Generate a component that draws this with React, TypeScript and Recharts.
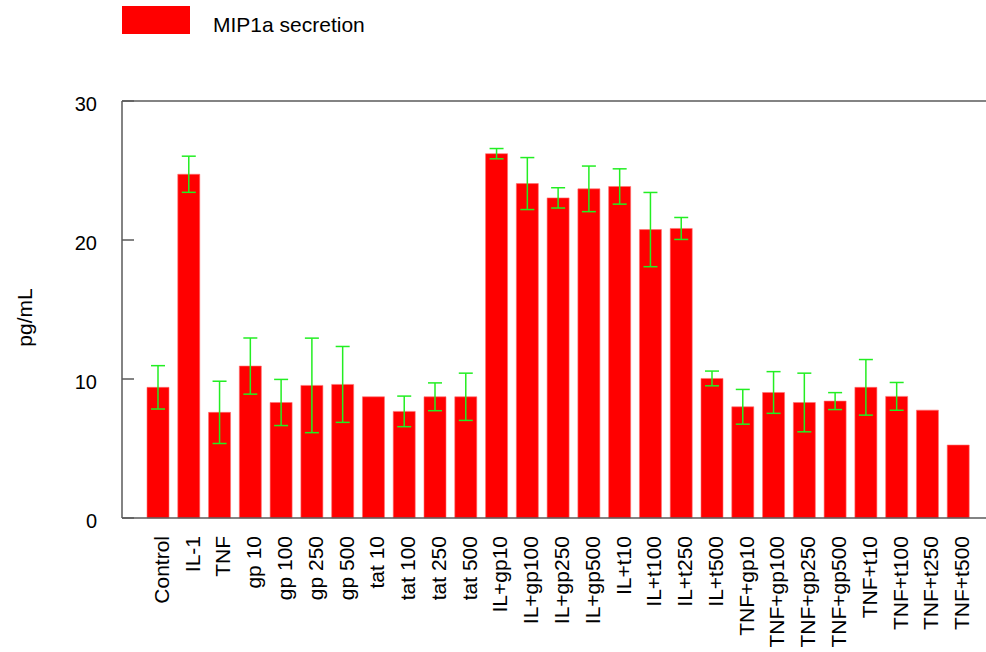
import React from 'react';
import { BarChart, Bar, XAxis, YAxis, ErrorBar, ReferenceLine } from 'recharts';

const categories = ['Control', 'IL-1', 'TNF', 'gp 10', 'gp 100', 'gp 250', 'gp 500', 'tat 10', 'tat 100', 'tat 250', 'tat 500', 'IL+gp10', 'IL+gp100', 'IL+gp250', 'IL+gp500', 'IL+t10', 'IL+t100', 'IL+t250', 'IL+t500', 'TNF+gp10', 'TNF+gp100', 'TNF+gp250', 'TNF+gp500', 'TNF+t10', 'TNF+t100', 'TNF+t250', 'TNF+t500'];
const secretion = [9.4, 24.73, 7.6, 10.93, 8.31, 9.54, 9.61, 8.72, 7.67, 8.72, 8.72, 26.21, 24.06, 23.03, 23.68, 23.85, 20.75, 20.83, 10.04, 8.0, 9.03, 8.31, 8.41, 9.4, 8.75, 7.76, 5.25];
const errors: (number | null)[] = [1.56, 1.3, 2.24, 2.02, 1.66, 3.4, 2.73, null, 1.1, 1.0, 1.7, 0.37, 1.87, 0.73, 1.64, 1.27, 2.67, 0.79, 0.53, 1.25, 1.5, 2.11, 0.61, 2.0, 1.0, null, null];
const yTicks = [0, 10, 20, 30];
const seriesName = 'MIP1a secretion';
const yLabel = 'pg/mL';

const data = categories.map((c, i) => ({ name: c, value: secretion[i], err: errors[i] }));

const FONT = '"Liberation Sans", Arial, Helvetica, sans-serif';
const AXIS = '#5a5a5a';

const XTick = (props: any) => {
  const { x, y, payload } = props;
  const tx = x + 3;
  const ty = y + 18;
  return (
    <text x={tx} y={ty} transform={`rotate(-90, ${tx}, ${ty})`} textAnchor="end" dominantBaseline="central" fontFamily={FONT} fontSize={21} fill="#000">
      {payload.value}
    </text>
  );
};

const YTick = (props: any) => {
  const { x, y, payload } = props;
  return (
    <g>
      <line x1={x} y1={y} x2={x + 12} y2={y} stroke={AXIS} strokeWidth={1.5} />
      <text x={x - 25} y={y + 3} textAnchor="end" dominantBaseline="central" fontFamily={FONT} fontSize={20} fill="#000">
        {payload.value}
      </text>
    </g>
  );
};

const YLabel = (props: any) => {
  const { viewBox } = props;
  const cx = 24;
  const cy = viewBox.y + viewBox.height / 2 + 8;
  return (
    <text x={cx} y={cy} transform={`rotate(-90, ${cx}, ${cy})`} textAnchor="middle" dominantBaseline="central" fontFamily={FONT} fontSize={21} fill="#000">
      {yLabel}
    </text>
  );
};

export default function App() {
  return (
    <div style={{ position: 'relative', width: 986, height: 652, background: '#fff' }}>
      <style>{'body{margin:0;overflow:hidden}'}</style>
      <div style={{ position: 'absolute', left: 122, top: 6, width: 68, height: 28, background: '#ff0000' }} />
      <div style={{ position: 'absolute', left: 213, top: 12, lineHeight: '26px', fontFamily: FONT, fontSize: 21, color: '#000', whiteSpace: 'nowrap' }}>
        {seriesName}
      </div>
      <BarChart width={986} height={652} data={data} margin={{ top: 101, right: 0, bottom: 0, left: 0 }}>
        <XAxis
          dataKey="name"
          interval={0}
          height={134}
          tickSize={0}
          tickMargin={0}
          tickLine={false}
          tick={<XTick />}
          axisLine={{ stroke: AXIS, strokeWidth: 1.5 }}
          padding={{ left: 21, right: 12 }}
        />
        <YAxis
          width={122}
          domain={[0, 30]}
          ticks={yTicks}
          tickSize={0}
          tickMargin={0}
          tickLine={false}
          tick={<YTick />}
          axisLine={{ stroke: AXIS, strokeWidth: 1.5 }}
          label={<YLabel />}
        />
        <ReferenceLine y={30} stroke={AXIS} strokeWidth={1.5} />
        <Bar dataKey="value" name={seriesName} fill="#ff0000" stroke="#ff7070" strokeWidth={0.6} barSize={22} isAnimationActive={false}>
          <ErrorBar dataKey="err" stroke="#22ee22" strokeWidth={1.5} width={7} />
        </Bar>
      </BarChart>
    </div>
  );
}
